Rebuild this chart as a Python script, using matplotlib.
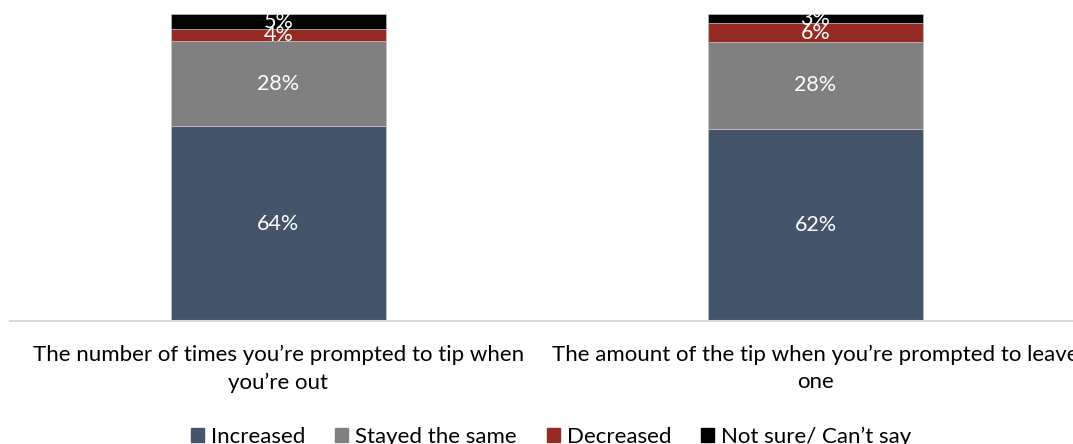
import numpy as np
import matplotlib.pyplot as plt
from matplotlib.patches import Patch

categories = ["The number of times you\u2019re prompted to tip when\nyou\u2019re out",
              "The amount of the tip when you\u2019re prompted to leave\none"]
series = ["Increased", "Stayed the same", "Decreased", "Not sure/ Can\u2019t say"]
increased = [64, 62]
stayed_same = [28, 28]
decreased = [4, 6]
not_sure = [5, 3]
colors = ["#44546a", "#808080", "#962b23", "#000000"]

plt.rcParams['font.family'] = ['Lato', 'DejaVu Sans']

fig = plt.figure(figsize=(10.73, 4.44), dpi=100)
ax = fig.add_axes([10 / 1073, 123 / 444, 1074 / 1073, 307 / 444])

values = np.array([increased, stayed_same, decreased, not_sure], dtype=float)
# 100% stacked: each column scaled to its own total
shares = values / values.sum(axis=0) * 100
x = np.arange(len(categories))
bottom = np.zeros(len(categories))
for i, name in enumerate(series):
    bars = ax.bar(x, shares[i], 0.4, bottom=bottom, color=colors[i],
                  edgecolor="#c9ced6", linewidth=0.4, label=name)
    for j, b in enumerate(bars):
        ax.text(b.get_x() + b.get_width() / 2, bottom[j] + shares[i][j] / 2,
                "%d%%" % values[i][j], ha="center", va="center",
                color="white", fontsize=15.5)
    bottom += shares[i]

ax.set_xlim(-0.5, 1.5)
ax.set_ylim(0, 100)
ax.set_yticks([])
ax.set_xticks(x)
ax.set_xticklabels(categories, fontsize=16, linespacing=1.45)
ax.tick_params(axis="x", length=0, pad=17)
for s in ["top", "left", "right"]:
    ax.spines[s].set_visible(False)
ax.spines["bottom"].set_color("#d9d9d9")
ax.spines["bottom"].set_linewidth(1.5)

handles = [Patch(color=c) for c in colors]
fig.legend(handles, series, loc="center", bbox_to_anchor=(551 / 1073, 7 / 444),
           ncol=4, frameon=False, fontsize=16, handlelength=0.6,
           handleheight=0.6, handletextpad=0.3, columnspacing=1.35)

fig.savefig("out.png", dpi=100)
